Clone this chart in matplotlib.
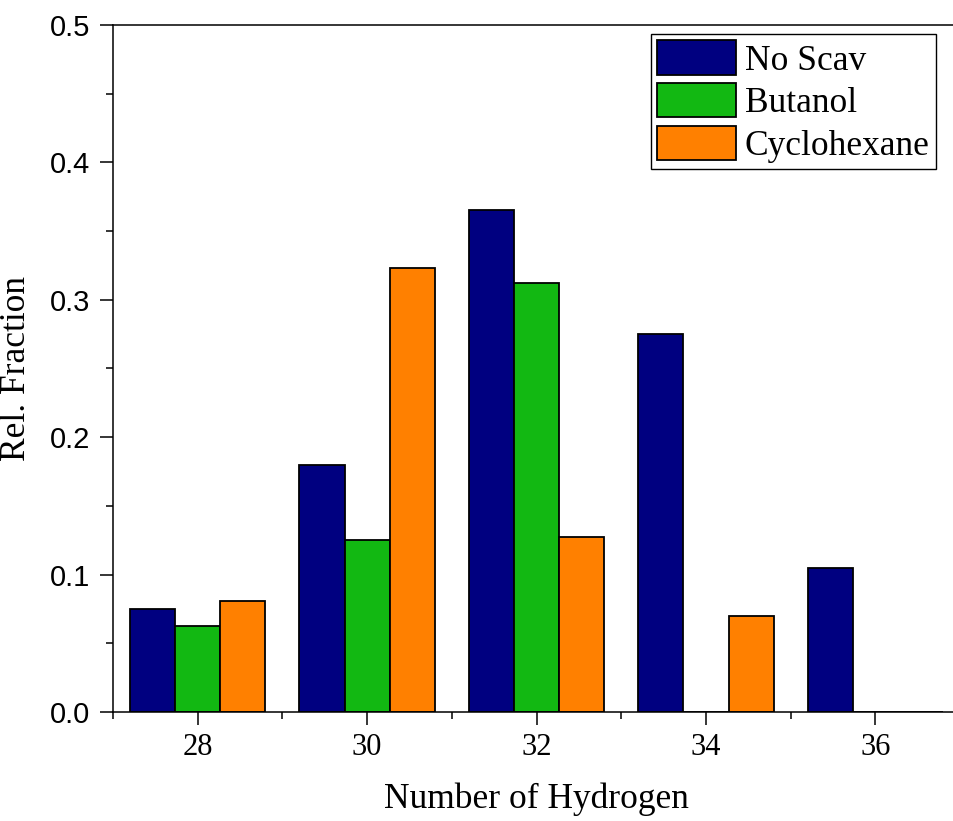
import numpy as np
import matplotlib
matplotlib.use('Agg')
import matplotlib.pyplot as plt
from matplotlib.ticker import MultipleLocator

plt.rcParams['font.family'] = ['Liberation Serif', 'DejaVu Serif']

hydrogen = [28, 30, 32, 34, 36]
no_scav = [0.075, 0.18, 0.365, 0.275, 0.105]
butanol = [0.0625, 0.125, 0.3125, 0.0, 0.0]
cyclohexane = [0.081, 0.323, 0.127, 0.07, 0.0]

labels = ['No Scav', 'Butanol', 'Cyclohexane']
colors = ['#000080', '#12B812', '#FF8000']

fig = plt.figure(figsize=(9.54, 8.21), dpi=100)
ax = fig.add_axes([0.1184, 0.1328, 0.888, 0.8368])

w = 0.533
x = np.array(hydrogen)
series = [no_scav, butanol, cyclohexane]
for i, (vals, lab, c) in enumerate(zip(series, labels, colors)):
    ax.bar(x + (i - 1) * w, vals, width=w, color=c, edgecolor='black',
           linewidth=1.3, label=lab, zorder=2)

ax.set_xlim(27, 37)
ax.set_ylim(0, 0.5)
ax.xaxis.set_major_locator(MultipleLocator(2))
ax.xaxis.set_minor_locator(MultipleLocator(1))
ax.yaxis.set_major_locator(MultipleLocator(0.1))
ax.yaxis.set_minor_locator(MultipleLocator(0.05))
ax.yaxis.set_major_formatter(matplotlib.ticker.FormatStrFormatter('%.1f'))

for s in ['left', 'bottom', 'top']:
    ax.spines[s].set_linewidth(1.1)
ax.spines['right'].set_visible(False)

ax.tick_params(which='major', direction='out', length=9.5, width=1.1)
ax.tick_params(which='minor', direction='out', length=5, width=1.1)
ax.tick_params(axis='x', which='major', pad=6, labelsize=22)
ax.tick_params(axis='y', which='major', pad=7, labelsize=21)
for t in ax.get_yticklabels():
    t.set_family('Liberation Sans')

ax.set_xlabel('Number of Hydrogen', fontsize=25.5)
ax.set_ylabel('Rel. Fraction', fontsize=25.5)
ax.xaxis.set_label_coords(0.5, -0.102)
ax.yaxis.set_label_coords(-0.094, 0.5)

leg = ax.legend(loc='upper right', bbox_to_anchor=(936 / 954, 1 - 34 / 821),
                bbox_transform=fig.transFigure, borderaxespad=0,
                fontsize=25.5, fancybox=False, framealpha=1,
                edgecolor='black', handlelength=2.23, handleheight=1.12,
                labelspacing=0.15, handletextpad=0.25, borderpad=0.18)
leg.get_frame().set_linewidth(1.0)

fig.savefig('out.png', dpi=100)
